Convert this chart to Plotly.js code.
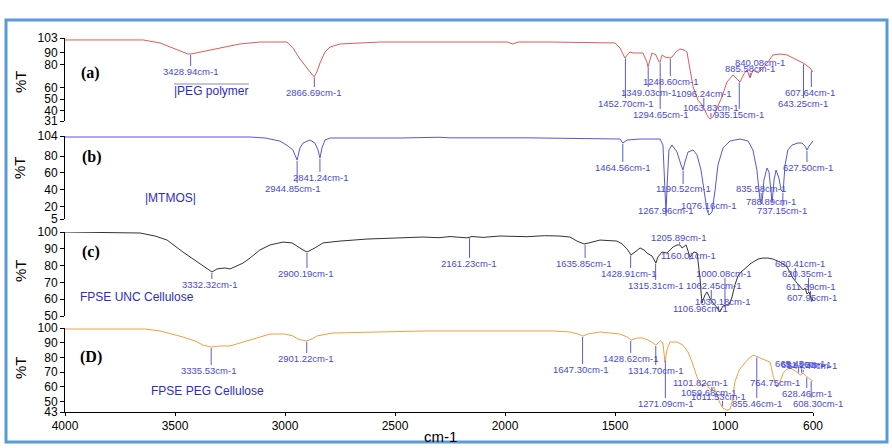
<!DOCTYPE html>
<html><head><meta charset="utf-8">
<script src="https://cdn.plot.ly/plotly-3.0.1.min.js"></script>
<style>html,body{margin:0;padding:0;background:#fff}#chart{width:892px;height:448px}</style>
</head><body><div id="chart"></div>
<script>
// ---------------- DATA ----------------
const xTicks = [4000, 3500, 3000, 2500, 2000, 1500, 1000, 600];
const yTicksA = [103, 90, 80, 60, 50, 40, 31];
const yTicksB = [104, 80, 60, 40, 20, 5];
const yTicksC = [100, 90, 80, 70, 60, 50];
const yTicksD = [100, 90, 80, 70, 60, 50, 43];

const panelTags = ["(a)", "(b)", "(c)", "(D)"];
const sampleNames = ["|PEG polymer", "|MTMOS|", "FPSE UNC Cellulose", "FPSE PEG Cellulose"];
const xTitle = "cm-1";
const yTitle = "%T";

// [wavenumber cm-1, %T]
const spectrumA = [[4000,101.3],[3645,101.3],[3568,98.7],[3500,93.5],[3441,89.1],[3427,89.1],[3386,90.9],[3295,94.3],[3205,97.8],[3114,99.5],[2991,99.5],[2964,94.3],[2932,84.8],[2900,77],[2868,69.2],[2855,73.5],[2841,81.3],[2818,90.9],[2795,95.2],[2750,97.8],[2673,98.7],[2568,99.5],[2300,99.5],[2100,99.3],[1990,99.5],[1964,97.8],[1940,99.5],[1800,99.5],[1568,98.7],[1500,98.7],[1477,94.3],[1455,85.7],[1432,90.9],[1418,90],[1373,90],[1355,82.2],[1350,77.8],[1341,83.9],[1332,90],[1314,88.3],[1300,82.2],[1295,82.2],[1286,88.3],[1273,86.5],[1259,85.7],[1250,85.7],[1241,86.5],[1223,90.9],[1205,93.5],[1186,92.6],[1173,90.9],[1159,77],[1145,60.5],[1123,49.2],[1100,44],[1082,36.2],[1068,32.7],[1055,34.5],[1045,38.8],[1032,44],[1014,51.8],[991,64.8],[964,70.9],[945,67.4],[932,64.8],[914,71.8],[900,75.2],[886,68.3],[873,75.2],[850,72.6],[827,77],[805,82.2],[782,88.3],[750,89.1],[718,88.3],[691,85.7],[659,83],[645,81.3],[632,79.6],[614,77],[600,73.5]];

const spectrumB = [[4000,102.8],[3159,102.8],[3091,101.6],[3023,98],[2986,92],[2964,87.3],[2945,75.4],[2932,89.7],[2918,95.6],[2886,99.2],[2864,95.6],[2850,87.3],[2841,77.7],[2832,89.7],[2818,99.2],[2795,101.6],[2477,101.6],[2300,102.5],[2250,101.8],[1900,101.8],[1477,100.4],[1464,95.6],[1445,99.2],[1386,100.4],[1295,100.4],[1282,93.3],[1273,39.6],[1268,13.3],[1264,39.6],[1255,87.3],[1241,93.3],[1218,84.9],[1200,69.4],[1191,63.4],[1182,73],[1168,84.9],[1145,87.3],[1127,81.3],[1109,63.4],[1095,39.6],[1082,15.7],[1073,9.7],[1059,13.3],[1045,39.6],[1032,69.4],[1009,89.7],[977,98],[932,100.4],[895,98],[873,87.3],[855,63.4],[841,27.6],[832,22.9],[823,51.5],[809,65.8],[800,61],[791,33.6],[786,25.2],[777,51.5],[768,63.4],[755,53.9],[745,39.6],[736,37.2],[727,69.4],[714,87.3],[695,93.3],[668,95.6],[650,95.6],[636,92],[627,87.3],[618,92],[600,98]];

const spectrumC = [[4000,100],[3659,99.4],[3591,97.6],[3536,95.2],[3464,88.1],[3409,83.3],[3364,79.2],[3332,76.2],[3309,78],[3273,78.6],[3250,78],[3218,79.8],[3191,81.5],[3159,84.5],[3114,89.3],[3068,92.3],[3009,94],[2968,93.5],[2941,91.1],[2918,89.3],[2900,88.1],[2882,89.3],[2864,90.5],[2827,93.5],[2750,94.6],[2627,95.8],[2477,96.4],[2373,97],[2300,96.6],[2250,97.3],[2173,96.5],[2150,97.3],[2100,96.8],[2023,97.6],[1900,97.2],[1820,97.8],[1750,97.6],[1705,97],[1673,94.6],[1641,92.9],[1618,93.5],[1600,94],[1568,95.2],[1491,94.6],[1468,92.9],[1445,89.9],[1427,86.3],[1409,88.1],[1386,90.5],[1368,89.3],[1355,87.5],[1332,85.7],[1314,81.5],[1305,85.1],[1286,88.1],[1264,87.5],[1236,91.1],[1218,92.3],[1205,92.3],[1195,90.5],[1177,92.3],[1159,85.1],[1141,88.1],[1127,87.5],[1114,73.2],[1105,57.7],[1091,62.5],[1082,64.3],[1064,59.5],[1045,56.5],[1032,53.6],[1023,52.4],[1009,56],[995,56.5],[982,56.5],[968,61.3],[955,68.5],[941,73.8],[927,76.2],[914,77.4],[900,79.2],[886,81],[873,82.1],[850,83.9],[827,84.5],[805,84.5],[782,83.9],[750,82.1],[718,79.2],[691,72.6],[673,69.6],[659,67.3],[645,65.5],[636,66.7],[627,63.1],[618,64.3],[609,60.7],[605,58.9],[600,60.7]];

const spectrumD = [[4000,99.3],[3636,99.3],[3568,98],[3464,93.9],[3409,91.2],[3373,88.4],[3336,87.1],[3295,87.8],[3250,87.8],[3205,89.8],[3159,91.8],[3114,93.9],[3068,95.9],[3000,95.9],[2964,94.6],[2941,92.5],[2918,91.8],[2905,91.2],[2877,92.5],[2855,94.6],[2782,96.6],[2568,97.3],[2355,98],[1782,98],[1705,97.3],[1668,95.9],[1645,94.6],[1623,95.9],[1600,96.6],[1568,97.3],[1477,95.9],[1445,93.9],[1427,91.8],[1400,93.2],[1373,93.2],[1341,91.2],[1314,88.4],[1295,91.2],[1282,89.8],[1273,76.9],[1264,85],[1250,90.5],[1218,90.5],[1191,88.4],[1168,83.7],[1150,76.9],[1127,66.7],[1109,61.2],[1100,61.2],[1086,62.6],[1073,59.2],[1059,57.8],[1050,59.9],[1036,54.4],[1023,49],[1009,45.6],[991,44.2],[977,44.9],[968,49.7],[955,63.3],[936,71.4],[918,74.8],[895,78.9],[873,81.6],[859,81],[841,79.6],[818,78.2],[795,76.9],[782,68],[768,61.2],[759,59.9],[750,63.3],[736,69.4],[718,72.1],[705,72.8],[686,71.4],[673,70.1],[659,68],[645,69.4],[632,67.3],[618,66],[609,64.6],[600,63.9]];

const peaksA = [3428.94, 2866.69, 1452.70, 1349.03, 1248.60, 1294.65, 1096.24, 1063.83, 935.15, 885.58, 840.08, 607.64, 643.25];
const peaksB = [2944.85, 2841.24, 1464.56, 1190.52, 1267.96, 1076.16, 835.58, 788.89, 737.15, 627.50];
const peaksC = [3332.32, 2900.19, 2161.23, 1635.85, 1428.91, 1315.31, 1205.89, 1160.01, 1000.08, 1062.45, 1030.18, 1106.96, 680.41, 620.35, 611.39, 607.95];
const peaksD = [3335.53, 2901.22, 1647.30, 1428.62, 1314.70, 1271.09, 1101.82, 1059.68, 1011.53, 855.46, 764.75, 665.45, 651.25, 644.44, 628.46, 608.30];

// ---------------- LAYOUT (pixel geometry) ----------------
const W = 892, H = 448, L = 65, R = 813, T = 38, B = 412;
const panels = [
  {top: 38, bot: 121, min: 31, max: 103, color: '#e05a5a', ticks: yTicksA, spec: spectrumA, peaks: peaksA,
   lab: [[190,71],[313,92],[625,103],[648,92],[670,81],[660,114],[703,93],[710,108],[739,114],[750,68],[760,62],[810,92],[803,103]],
   tag: [90,73], name: [211,91], ylab: 82},
  {top: 136, bot: 219, min: 5, max: 104, color: '#5656e0', ticks: yTicksB, spec: spectrumB, peaks: peaksB,
   lab: [[292,188],[320,177],[622,167],[683,189],[665,211],[708,205],[761,188],[771,201],[782,211],[808,167]],
   tag: [92,157], name: [170,198], ylab: 168},
  {top: 232, bot: 316, min: 50, max: 100, color: '#333333', ticks: yTicksC, spec: spectrumC, peaks: peaksC,
   lab: [[209,284],[305,273],[468,263],[583,263],[628,273],[655,285],[678,237],[688,255],[723,273],[713,285],[722,301],[700,308],[800,263],[807,273],[810,286],[812,297]],
   tag: [91,252], name: [137,297], ylab: 271},
  {top: 328, bot: 412, min: 43, max: 100, color: '#f0a040', ticks: yTicksD, spec: spectrumD, peaks: peaksD,
   lab: [[208,370],[305,358],[580,369],[630,358],[655,370],[665,403],[700,382],[708,392],[718,396],[757,403],[775,382],[800,363],[806,364],[812,365],[807,393],[818,403]],
   tag: [91,357], name: [207,391], ylab: 368}
];

const px2x = px => (px - L) / (R - L);
const py2y = py => (B - py) / (B - T);
function interp(spec, wn) {
  for (let i = 0; i < spec.length - 1; i++) {
    const a = spec[i], b = spec[i + 1];
    if (wn <= a[0] && wn >= b[0]) return a[1] + (b[1] - a[1]) * (a[0] - wn) / (a[0] - b[0]);
  }
  return spec[spec.length - 1][1];
}
const val2py = (p, v) => p.top + (p.max - v) / (p.max - p.min) * (p.bot - p.top);
function note(px, py, text, font, extra) {
  return Object.assign({xref: 'paper', yref: 'paper', x: px2x(px), y: py2y(py), text: text, showarrow: false,
    xanchor: 'center', yanchor: 'middle', font: font}, extra || {});
}

const traces = [], annotations = [], shapes = [];
const layout = {
  width: W, height: H, margin: {l: L, r: W - R, t: T, b: H - B},
  paper_bgcolor: '#fff', plot_bgcolor: 'rgba(0,0,0,0)', showlegend: false,
  font: {family: 'Arial, "Liberation Sans", sans-serif', color: '#000'},
  xaxis: {range: [4000, 600], anchor: 'y4', tickvals: xTicks, ticktext: xTicks.map(String),
          showline: true, linecolor: '#000', linewidth: 1, ticks: 'outside', ticklen: 3, tickcolor: '#000',
          showgrid: false, zeroline: false, tickfont: {size: 12}}
};

panels.forEach((p, i) => {
  const n = i === 0 ? '' : String(i + 1);
  traces.push({x: p.spec.map(d => d[0]), y: p.spec.map(d => d[1]), type: 'scatter', mode: 'lines',
               line: {color: p.color, width: 1}, xaxis: 'x', yaxis: 'y' + n, hoverinfo: 'skip'});
  layout['yaxis' + n] = {domain: [(B - p.bot) / (B - T), (B - p.top) / (B - T)], range: [p.min, p.max], anchor: 'x',
    tickvals: p.ticks, ticktext: p.ticks.map(String), showline: true, linecolor: '#000', linewidth: 1,
    ticks: 'outside', ticklen: 4, tickcolor: '#000', showgrid: false, zeroline: false, tickfont: {size: 12}};
  p.peaks.forEach((wn, k) => {
    const [lx, ly] = p.lab[k];
    annotations.push(note(lx, ly, wn.toFixed(2) + 'cm-1', {size: 9.5, color: '#4848d8'}));
    const cy = val2py(p, interp(p.spec, wn));
    const ey = ly > cy ? ly - 5 : ly + 5;
    shapes.push({type: 'line', xref: 'x', yref: 'paper', x0: wn, x1: wn, y0: py2y(cy + (ly > cy ? 1 : -1)), y1: py2y(ey),
      line: {color: '#5a5ad8', width: 1}});
  });
  annotations.push(note(p.tag[0], p.tag[1], '<b>' + panelTags[i] + '</b>',
    {family: '"Times New Roman", "Liberation Serif", serif', size: 16, color: '#000'}));
  annotations.push(note(p.name[0], p.name[1], sampleNames[i], {size: 12, color: '#2c2cc8'}));
  annotations.push(note(20, p.ylab, yTitle, {size: 15, color: '#000'}, {textangle: -90}));
});
annotations.push(note(440, 436, xTitle, {size: 15, color: '#000'}));

// overline of the PEG polymer label
shapes.push({type: 'line', xref: 'paper', yref: 'paper', x0: px2x(174), x1: px2x(249), y0: py2y(84), y1: py2y(84),
  line: {color: '#8888cc', width: 1}});
// outer frame
shapes.push({type: 'rect', xref: 'paper', yref: 'paper', x0: px2x(6), x1: px2x(887), y0: py2y(442), y1: py2y(20),
  line: {color: '#5b9bd5', width: 3}});

layout.annotations = annotations;
layout.shapes = shapes;
Plotly.newPlot('chart', traces, layout, {displayModeBar: false, staticPlot: true});
</script></body></html>
